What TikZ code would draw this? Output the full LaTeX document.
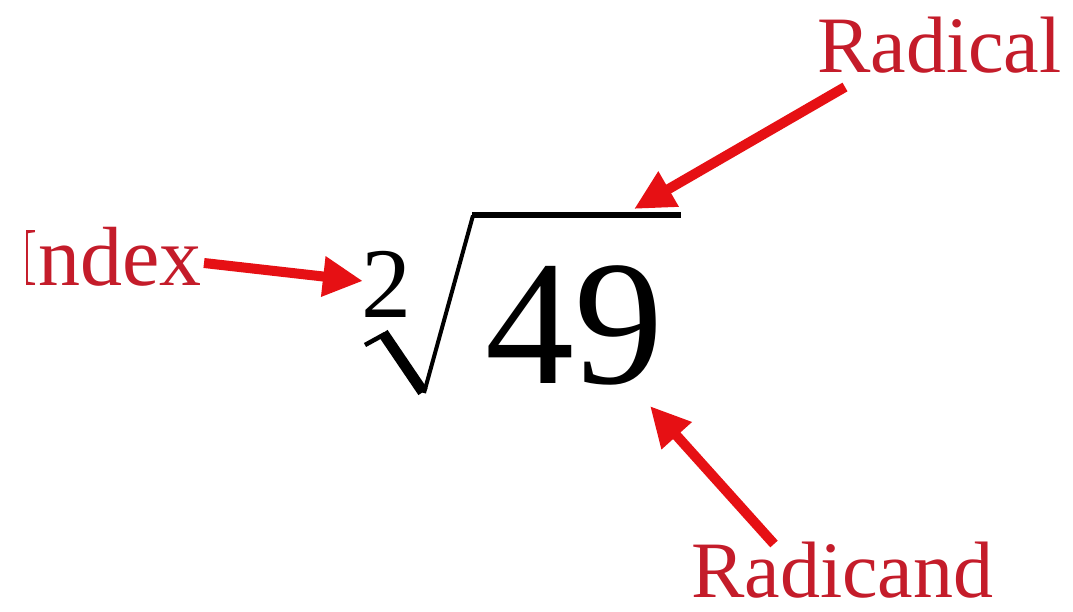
\documentclass[tikz,border=0pt]{standalone}
\usepackage{fontspec}
\setmainfont{Liberation Serif}
\usetikzlibrary{arrows.meta}
\definecolor{lblred}{RGB}{196,28,42}
\definecolor{arrred}{RGB}{230,16,20}
\tikzset{
  lbl/.style={inner sep=0pt, text=lblred, font=\fontsize{80}{90}\selectfont},
  arr/.style={draw=arrred, line width=10pt, -{Triangle[length=40pt,width=38pt]}, shorten >=0pt},
  rad/.style={draw=black, line cap=butt, line join=miter}
}
\begin{document}
\begin{tikzpicture}[x=1pt,y=-1pt]
\useasboundingbox (0,0) rectangle (1073,611);
% math
\node[inner sep=0pt, anchor=base west, font=\fontsize{178}{190}\selectfont] (num) at (485,383) {49};
\node[inner sep=0pt, anchor=base west, font=\fontsize{100}{110}\selectfont] (idx) at (361,317) {2};
% radical sign
\draw[rad, line width=4.5pt] (365,345) -- (385,334);
\draw[rad, line width=11pt] (383,333) -- (423,392);
\draw[rad, line width=4pt] (424,393) -- (473,215.5);
\draw[rad, line width=6pt] (472,215) -- (681,215);
% labels
\node[lbl, anchor=base west] (radical) at (817,72) {Radical};
\begin{scope}
\clip (26,0) rectangle (1073,611);
\node[lbl, anchor=base east, font=\fontsize{84}{96}\selectfont] (index) at (202,285) {Index};
\end{scope}
\node[lbl, anchor=base west] (radicand) at (691,597) {Radicand};
% arrow end points
\coordinate (idxtail) at (204,263);
\coordinate (idxtip) at (363,281);
\coordinate (radtail) at (845,87);
\coordinate (radtip) at (634,209);
\coordinate (cndtail) at (774,544);
\coordinate (cndtip) at (650,406);
% arrows
\draw[arr] (idxtail) -- (idxtip);
\draw[arr] (radtail) -- (radtip);
\draw[arr] (cndtail) -- (cndtip);
\end{tikzpicture}
\end{document}
